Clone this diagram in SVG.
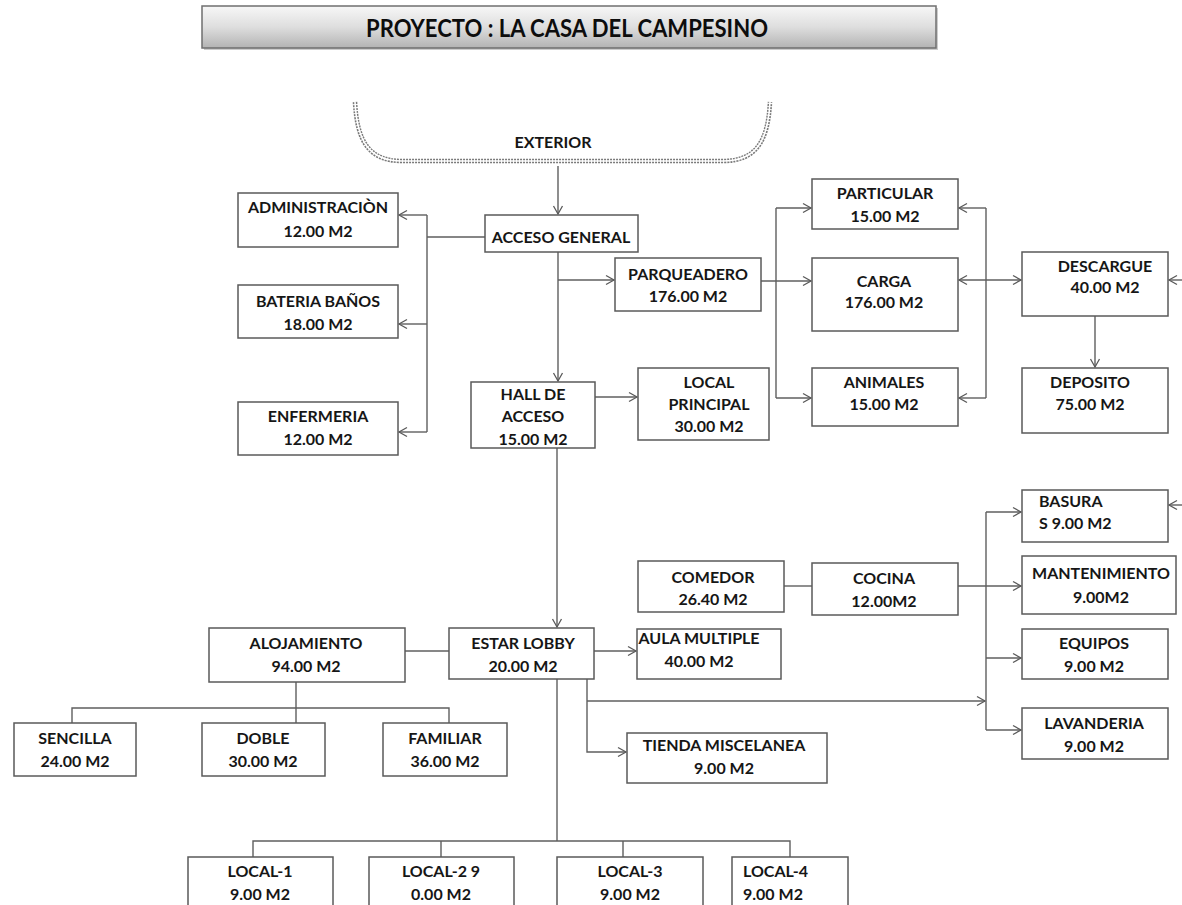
<svg xmlns="http://www.w3.org/2000/svg" width="1182" height="905" viewBox="0 0 1182 905">
<defs>
<linearGradient id="tg" x1="0" y1="0" x2="0" y2="1">
<stop offset="0" stop-color="#f7f7f7"/>
<stop offset="0.5" stop-color="#dedede"/>
<stop offset="1" stop-color="#b3b3b3"/>
</linearGradient>
<marker id="ar" markerUnits="userSpaceOnUse" markerWidth="12" markerHeight="12" refX="10" refY="6" orient="auto-start-reverse">
<path d="M2,1.5 L10,6 L2,10.5" fill="none" stroke="#5a5a5a" stroke-width="1.3"/>
</marker>
</defs>
<style>
rect.b{fill:#fff;stroke:#5a5a5a;stroke-width:1.5}
text{font-family:Lato,"Liberation Sans",sans-serif;font-weight:700;font-size:16px;fill:#161616;text-anchor:middle}
text.l{text-anchor:start}
#connectors path{fill:none;stroke:#5f5f5f;stroke-width:1.4}
#connectors path.a{marker-end:url(#ar)}
</style>
<rect width="1182" height="905" fill="#fff"/>

<g id="title">
<rect x="204" y="8" width="734" height="42" fill="#999" opacity="0.5"/>
<rect x="202" y="6" width="734" height="42" fill="url(#tg)" stroke="#6f6f6f" stroke-width="1.5"/>
<text x="567" y="37" style="font-size:24px;fill:#0d0d0d" textLength="402" lengthAdjust="spacingAndGlyphs">PROYECTO : LA CASA DEL CAMPESINO</text>
</g>

<g id="exterior">
<path d="M355,102 C357,140 368,161 402,161 L723,161 C757,161 768,140 770,102" fill="none" stroke="#7a7a7a" stroke-width="4.6" stroke-dasharray="2 1"/>
<path d="M355,102 C357,140 368,161 402,161 L723,161 C757,161 768,140 770,102" fill="none" stroke="#fff" stroke-width="1.6"/>
<text x="553" y="148">EXTERIOR</text>
</g>

<g id="connectors">
<path class="a" d="M558,166 V214"/>
<path d="M485,237 H427 M427,215 V432"/>
<path class="a" d="M427,215 H399"/>
<path class="a" d="M427,324 H399"/>
<path class="a" d="M427,432 H399"/>
<path class="a" d="M558,252 V381"/>
<path class="a" d="M558,280 H614"/>
<path class="a" d="M595,397 H637"/>
<path class="a" d="M761,281 H811"/>
<path d="M776,208 V398"/>
<path class="a" d="M776,208 H811"/>
<path class="a" d="M776,398 H811"/>
<path d="M986,208 V398"/>
<path class="a" d="M986,208 H959"/>
<path class="a" d="M986,398 H959"/>
<path class="a" d="M959,280 H1021" style="marker-start:url(#ar)"/>
<path class="a" d="M1182,280 H1169"/>
<path class="a" d="M1095,316 V367"/>
<path class="a" d="M557,448 V627"/>
<path d="M449,651 H405"/>
<path d="M296,682 V723 M72,723 V708 H449 V723"/>
<path class="a" d="M594,651 H636"/>
<path class="a" d="M587,679 V752 H626"/>
<path class="a" d="M587,701 H985"/>
<path d="M784,586 H812"/>
<path class="a" d="M958,586 H1021"/>
<path d="M986,512 V730"/>
<path class="a" d="M986,512 H1021"/>
<path class="a" d="M986,658 H1021"/>
<path class="a" d="M986,730 H1021"/>
<path class="a" d="M1182,505 H1169"/>
<path d="M557,679 V841 M253,857 V841 H790 V857 M441,841 V857 M623,841 V857"/>
</g>

<g id="acceso-general"><rect class="b" x="485" y="215" width="153" height="37"/><text x="561" y="243">ACCESO GENERAL</text></g>
<g id="administracion"><rect class="b" x="238" y="193" width="160" height="54"/><text x="318" y="213">ADMINISTRACIÒN</text><text x="318" y="237">12.00 M2</text></g>
<g id="bateria-banos"><rect class="b" x="238" y="285" width="160" height="53"/><text x="318" y="307">BATERIA BAÑOS</text><text x="318" y="330">18.00 M2</text></g>
<g id="enfermeria"><rect class="b" x="238" y="402" width="160" height="53"/><text x="318" y="422">ENFERMERIA</text><text x="318" y="445">12.00 M2</text></g>
<g id="hall-de-acceso"><rect class="b" x="471" y="382" width="124" height="66"/><text x="533" y="400">HALL DE</text><text x="533" y="422">ACCESO</text><text x="533" y="445">15.00 M2</text></g>
<g id="parqueadero"><rect class="b" x="615" y="258" width="146" height="53"/><text x="688" y="280">PARQUEADERO</text><text x="688" y="302">176.00 M2</text></g>
<g id="local-principal"><rect class="b" x="638" y="368" width="131" height="72"/><text x="709" y="388">LOCAL</text><text x="709" y="410">PRINCIPAL</text><text x="709" y="432">30.00 M2</text></g>
<g id="particular"><rect class="b" x="812" y="179" width="146" height="50"/><text x="885" y="199">PARTICULAR</text><text x="885" y="222">15.00 M2</text></g>
<g id="carga"><rect class="b" x="812" y="258" width="146" height="73"/><text x="884" y="287">CARGA</text><text x="884" y="308">176.00 M2</text></g>
<g id="animales"><rect class="b" x="812" y="368" width="146" height="58"/><text x="884" y="388">ANIMALES</text><text x="884" y="410">15.00 M2</text></g>
<g id="descargue"><rect class="b" x="1022" y="252" width="146" height="64"/><text x="1105" y="272">DESCARGUE</text><text x="1105" y="293">40.00 M2</text></g>
<g id="deposito"><rect class="b" x="1022" y="368" width="146" height="65"/><text x="1090" y="388">DEPOSITO</text><text x="1090" y="410">75.00 M2</text></g>
<g id="basura"><rect class="b" x="1022" y="490" width="146" height="52"/><text class="l" x="1039" y="507">BASURA</text><text class="l" x="1039" y="529">S 9.00 M2</text></g>
<g id="comedor"><rect class="b" x="638" y="561" width="146" height="51"/><text x="713" y="583">COMEDOR</text><text x="713" y="605">26.40 M2</text></g>
<g id="cocina"><rect class="b" x="812" y="563" width="146" height="52"/><text x="884" y="584">COCINA</text><text x="884" y="607">12.00M2</text></g>
<g id="mantenimiento"><rect class="b" x="1022" y="556" width="154" height="58"/><text x="1101" y="579">MANTENIMIENTO</text><text x="1101" y="603">9.00M2</text></g>
<g id="equipos"><rect class="b" x="1022" y="629" width="146" height="50"/><text x="1094" y="649">EQUIPOS</text><text x="1094" y="672">9.00 M2</text></g>
<g id="lavanderia"><rect class="b" x="1022" y="708" width="146" height="51"/><text x="1094" y="729">LAVANDERIA</text><text x="1094" y="752">9.00 M2</text></g>
<g id="aula-multiple"><rect class="b" x="637" y="629" width="144" height="50"/><text x="699" y="644">AULA MULTIPLE</text><text x="699" y="667">40.00 M2</text></g>
<g id="estar-lobby"><rect class="b" x="449" y="628" width="145" height="51"/><text x="523" y="649">ESTAR LOBBY</text><text x="523" y="672">20.00 M2</text></g>
<g id="alojamiento"><rect class="b" x="209" y="628" width="196" height="54"/><text x="306" y="649">ALOJAMIENTO</text><text x="306" y="672">94.00 M2</text></g>
<g id="tienda-miscelanea"><rect class="b" x="627" y="733" width="200" height="50"/><text x="724" y="751">TIENDA MISCELANEA</text><text x="724" y="774">9.00 M2</text></g>
<g id="sencilla"><rect class="b" x="14" y="723" width="122" height="53"/><text x="75" y="744">SENCILLA</text><text x="75" y="767">24.00 M2</text></g>
<g id="doble"><rect class="b" x="202" y="723" width="123" height="53"/><text x="263" y="744">DOBLE</text><text x="263" y="767">30.00 M2</text></g>
<g id="familiar"><rect class="b" x="383" y="723" width="124" height="53"/><text x="445" y="744">FAMILIAR</text><text x="445" y="767">36.00 M2</text></g>
<g id="local-1"><rect class="b" x="188" y="857" width="145" height="60"/><text x="260" y="877">LOCAL-1</text><text x="260" y="900">9.00 M2</text></g>
<g id="local-2"><rect class="b" x="369" y="857" width="145" height="60"/><text x="441" y="877">LOCAL-2 9</text><text x="441" y="900">0.00 M2</text></g>
<g id="local-3"><rect class="b" x="557" y="857" width="146" height="60"/><text x="630" y="877">LOCAL-3</text><text x="630" y="900">9.00 M2</text></g>
<g id="local-4"><rect class="b" x="732" y="857" width="116" height="60"/><text class="l" x="743" y="877">LOCAL-4</text><text class="l" x="743" y="900">9.00 M2</text></g>
</svg>
